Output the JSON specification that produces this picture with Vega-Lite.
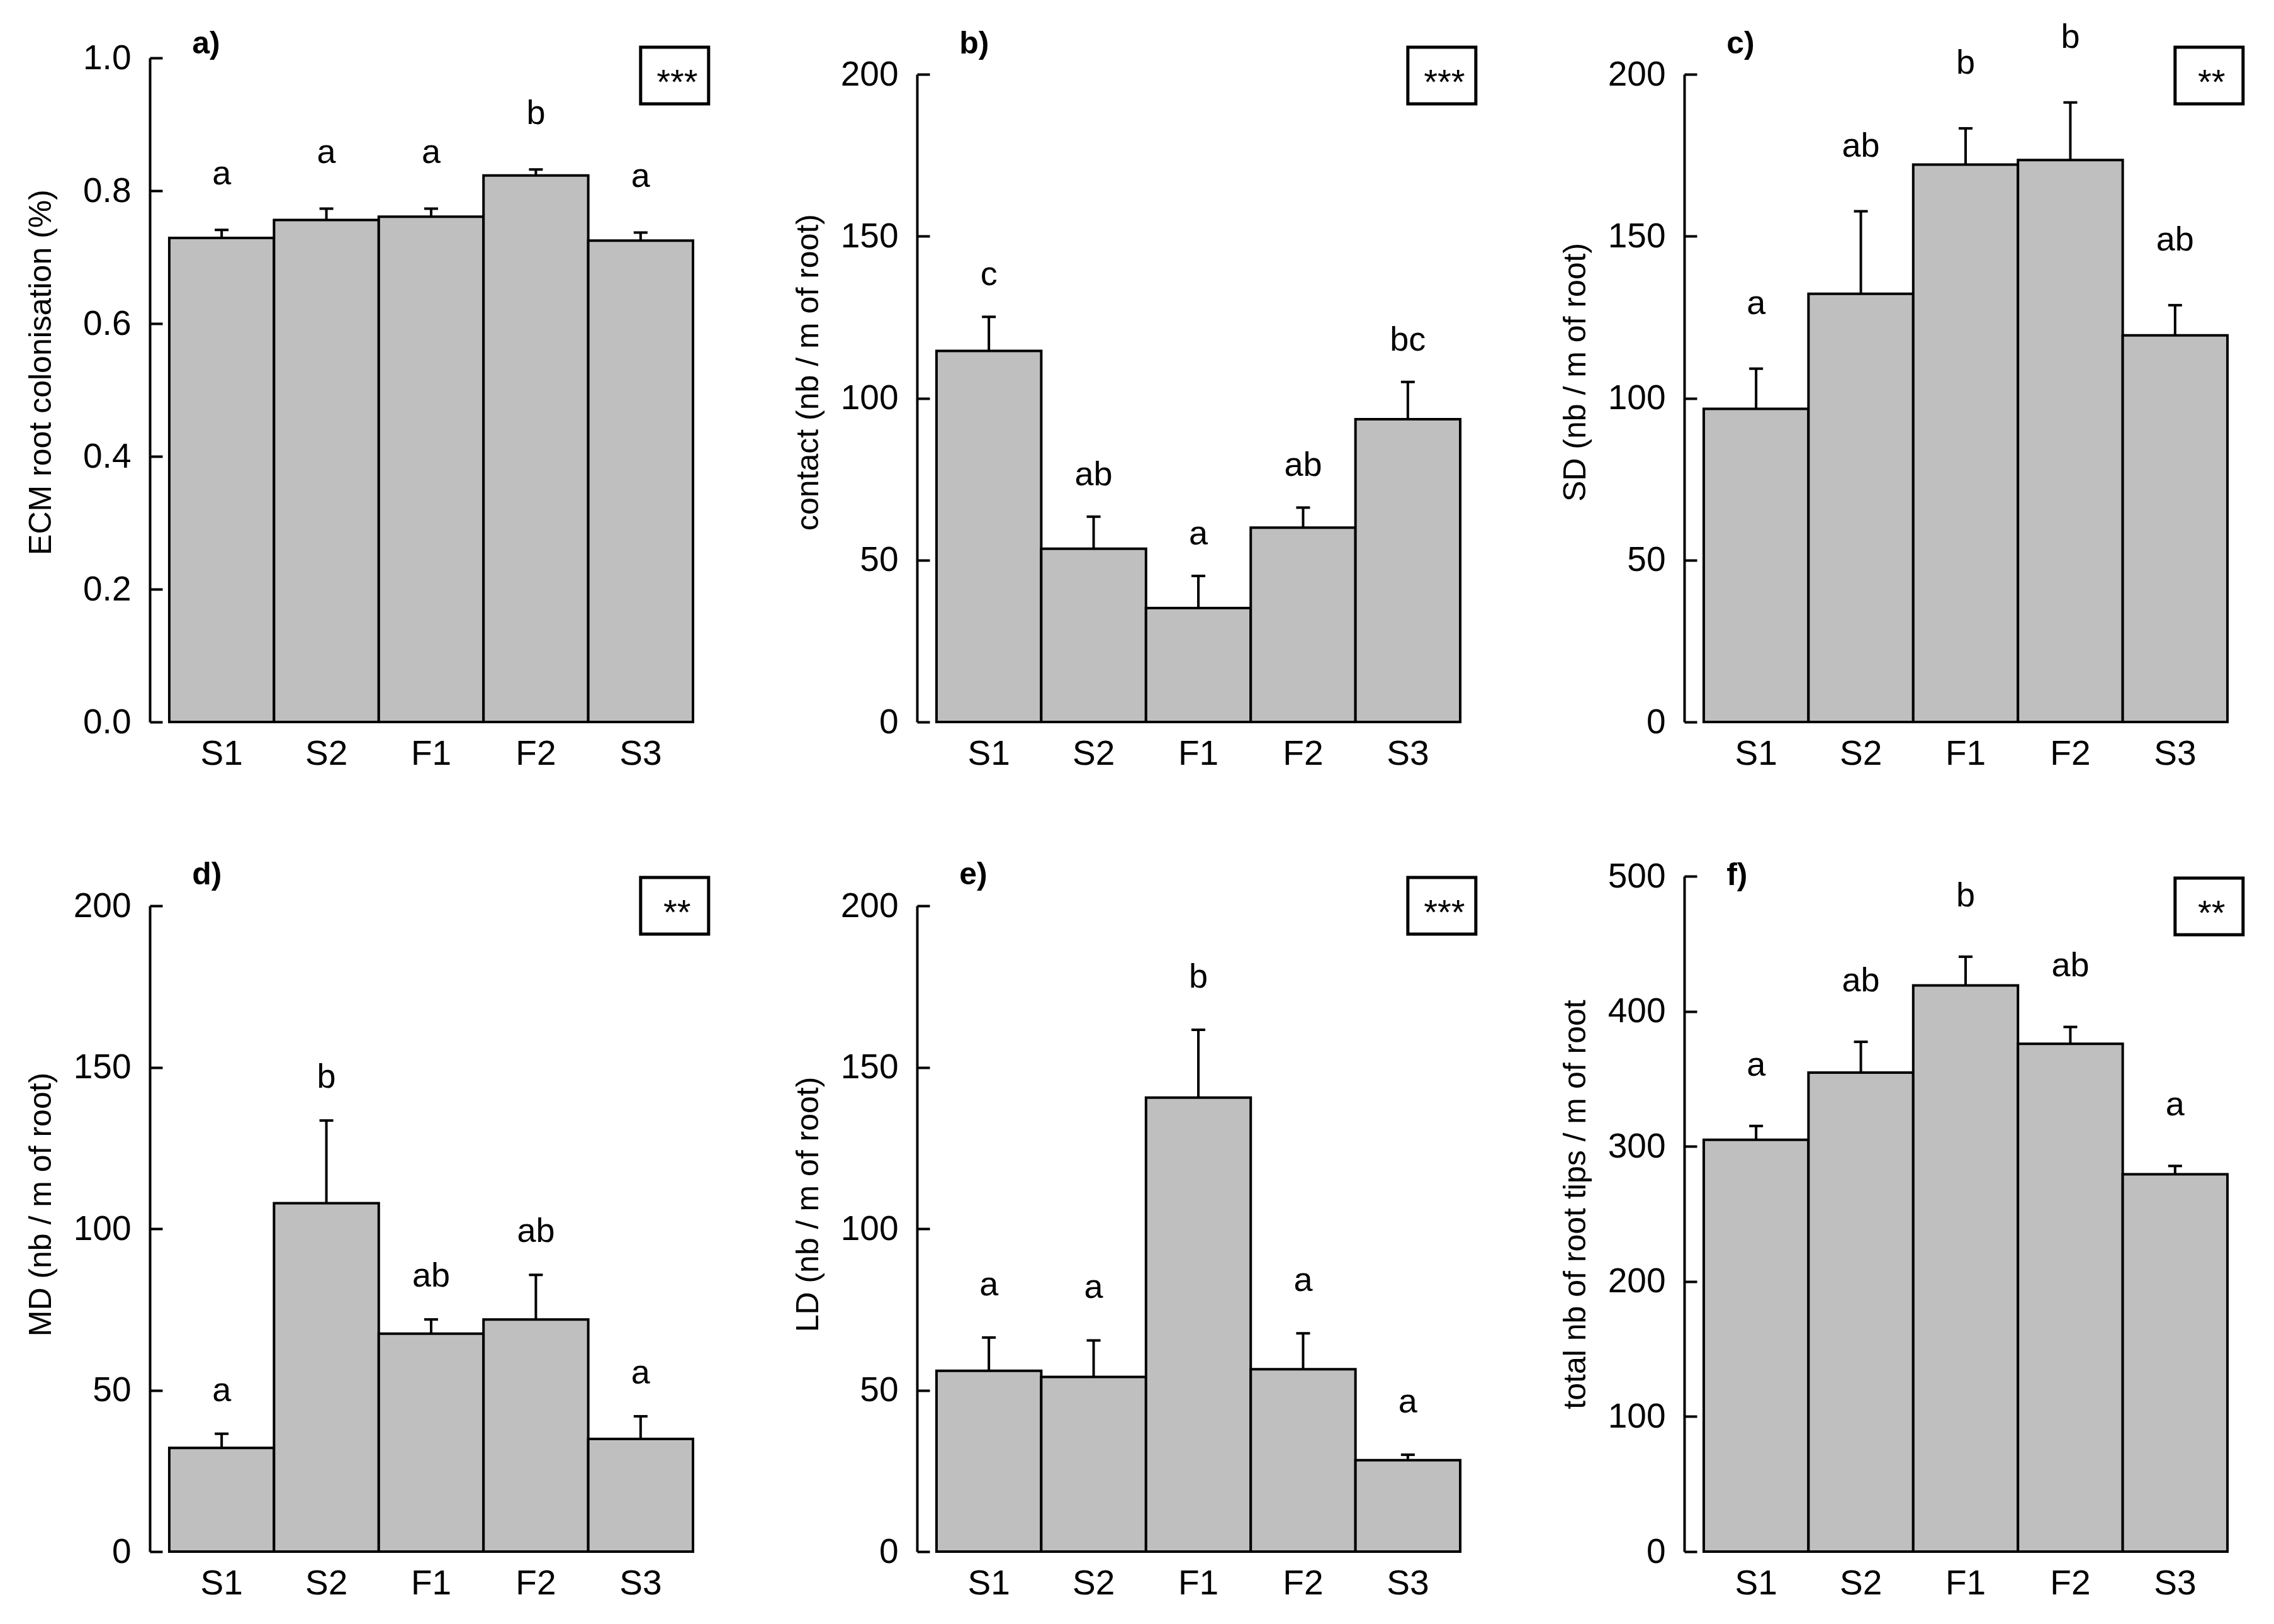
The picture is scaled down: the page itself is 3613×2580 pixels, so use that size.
{
  "$schema": "https://vega.github.io/schema/vega-lite/v6.json",
  "background": "white",
  "padding": {"left": 40, "top": 32, "right": 10, "bottom": 10},
  "columns": 3,
  "spacing": {"row": 245, "column": 325},
  "bounds": "flush",
  "datasets": {
    "bars": [
      {"panel": "a", "cat": "S1", "mean": 0.729, "upper": 0.741, "letter": "a"},
      {"panel": "a", "cat": "S2", "mean": 0.756, "upper": 0.773, "letter": "a"},
      {"panel": "a", "cat": "F1", "mean": 0.761, "upper": 0.773, "letter": "a"},
      {"panel": "a", "cat": "F2", "mean": 0.823, "upper": 0.832, "letter": "b"},
      {"panel": "a", "cat": "S3", "mean": 0.725, "upper": 0.737, "letter": "a"},
      {"panel": "b", "cat": "S1", "mean": 114.6, "upper": 125.1, "letter": "c"},
      {"panel": "b", "cat": "S2", "mean": 53.5, "upper": 63.4, "letter": "ab"},
      {"panel": "b", "cat": "F1", "mean": 35.2, "upper": 45.1, "letter": "a"},
      {"panel": "b", "cat": "F2", "mean": 60.0, "upper": 66.2, "letter": "ab"},
      {"panel": "b", "cat": "S3", "mean": 93.5, "upper": 105.0, "letter": "bc"},
      {"panel": "c", "cat": "S1", "mean": 96.7, "upper": 109.1, "letter": "a"},
      {"panel": "c", "cat": "S2", "mean": 132.2, "upper": 157.7, "letter": "ab"},
      {"panel": "c", "cat": "F1", "mean": 172.1, "upper": 183.3, "letter": "b"},
      {"panel": "c", "cat": "F2", "mean": 173.5, "upper": 191.3, "letter": "b"},
      {"panel": "c", "cat": "S3", "mean": 119.4, "upper": 128.7, "letter": "ab"},
      {"panel": "d", "cat": "S1", "mean": 32.1, "upper": 36.5, "letter": "a"},
      {"panel": "d", "cat": "S2", "mean": 107.9, "upper": 133.5, "letter": "b"},
      {"panel": "d", "cat": "F1", "mean": 67.5, "upper": 71.9, "letter": "ab"},
      {"panel": "d", "cat": "F2", "mean": 71.9, "upper": 85.7, "letter": "ab"},
      {"panel": "d", "cat": "S3", "mean": 34.9, "upper": 41.9, "letter": "a"},
      {"panel": "e", "cat": "S1", "mean": 56.0, "upper": 66.3, "letter": "a"},
      {"panel": "e", "cat": "S2", "mean": 54.1, "upper": 65.4, "letter": "a"},
      {"panel": "e", "cat": "F1", "mean": 140.6, "upper": 161.6, "letter": "b"},
      {"panel": "e", "cat": "F2", "mean": 56.5, "upper": 67.6, "letter": "a"},
      {"panel": "e", "cat": "S3", "mean": 28.3, "upper": 30.0, "letter": "a"},
      {"panel": "f", "cat": "S1", "mean": 304.9, "upper": 315.1, "letter": "a"},
      {"panel": "f", "cat": "S2", "mean": 354.6, "upper": 377.4, "letter": "ab"},
      {"panel": "f", "cat": "F1", "mean": 419.1, "upper": 440.4, "letter": "b"},
      {"panel": "f", "cat": "F2", "mean": 375.9, "upper": 388.4, "letter": "ab"},
      {"panel": "f", "cat": "S3", "mean": 279.4, "upper": 285.5, "letter": "a"}
    ],
    "panels": [
      {"panel": "a", "label": "a)", "sig": "***"},
      {"panel": "b", "label": "b)", "sig": "***"},
      {"panel": "c", "label": "c)", "sig": "**"},
      {"panel": "d", "label": "d)", "sig": "**"},
      {"panel": "e", "label": "e)", "sig": "***"},
      {"panel": "f", "label": "f)", "sig": "**"}
    ]
  },
  "concat": [
    {
      "width": 894, "height": 1055,
      "data": {"name": "bars"},
      "transform": [{"filter": "datum.panel === 'a'"}],
      "encoding": {"x": {"field": "cat", "type": "nominal", "sort": ["S1","S2","F1","F2","S3"], "scale": {"paddingInner": 0, "paddingOuter": 0.186}, "title": null}},
      "layer": [
        {"mark": {"type": "bar", "fill": "#bfbfbf", "stroke": "black", "strokeWidth": 4}, "encoding": {"y": {"field": "mean", "type": "quantitative", "scale": {"domain": [0, 1], "nice": false}, "axis": {"values": [0, 0.2, 0.4, 0.6, 0.8, 1.0], "format": ".1f", "titleX": -173, "titleY": 499}, "title": "ECM root colonisation (%)"}}},
        {"mark": {"type": "rule", "color": "black", "strokeWidth": 4}, "encoding": {"y": {"field": "mean", "type": "quantitative"}, "y2": {"field": "upper"}}},
        {"mark": {"type": "tick", "color": "black", "thickness": 4, "size": 22, "opacity": 1}, "encoding": {"y": {"field": "upper", "type": "quantitative"}}},
        {"mark": {"type": "text", "fontSize": 54, "baseline": "alphabetic", "dy": -72, "color": "black"}, "encoding": {"y": {"field": "upper", "type": "quantitative"}, "text": {"field": "letter"}}},
        {"data": {"name": "panels"}, "transform": [{"filter": "datum.panel === 'a'"}], "mark": {"type": "text", "fontSize": 50, "fontWeight": "bold", "align": "left", "baseline": "alphabetic", "dx": -47, "dy": -7, "color": "black"}, "encoding": {"x": {"datum": "S1"}, "y": {"datum": 1.0}, "text": {"field": "label"}}},
        {"data": {"name": "panels"}, "transform": [{"filter": "datum.panel === 'a'"}], "mark": {"type": "point", "shape": "M-1,-0.833L1,-0.833L1,0.833L-1,0.833Z", "size": 11664, "filled": false, "stroke": "black", "strokeWidth": 5, "opacity": 1, "xOffset": 54, "yOffset": 28}, "encoding": {"x": {"datum": "S3"}, "y": {"datum": 1.0}}},
        {"data": {"name": "panels"}, "transform": [{"filter": "datum.panel === 'a'"}], "mark": {"type": "text", "fontSize": 56, "baseline": "alphabetic", "dx": 58, "dy": 57, "color": "black"}, "encoding": {"x": {"datum": "S3"}, "y": {"datum": 1.0}, "text": {"field": "sig"}}}
      ]
    },
    {
      "width": 894, "height": 1055,
      "data": {"name": "bars"},
      "transform": [{"filter": "datum.panel === 'b'"}],
      "encoding": {"x": {"field": "cat", "type": "nominal", "sort": ["S1","S2","F1","F2","S3"], "scale": {"paddingInner": 0, "paddingOuter": 0.186}, "title": null}},
      "layer": [
        {"mark": {"type": "bar", "fill": "#bfbfbf", "stroke": "black", "strokeWidth": 4}, "encoding": {"y": {"field": "mean", "type": "quantitative", "scale": {"domain": [0, 200], "nice": false, "range": [1055, 26]}, "axis": {"values": [0, 50, 100, 150, 200], "titleX": -173, "titleY": 499}, "title": "contact (nb / m of root)"}}},
        {"mark": {"type": "rule", "color": "black", "strokeWidth": 4}, "encoding": {"y": {"field": "mean", "type": "quantitative"}, "y2": {"field": "upper"}}},
        {"mark": {"type": "tick", "color": "black", "thickness": 4, "size": 22, "opacity": 1}, "encoding": {"y": {"field": "upper", "type": "quantitative"}}},
        {"mark": {"type": "text", "fontSize": 54, "baseline": "alphabetic", "dy": -50, "color": "black"}, "encoding": {"y": {"field": "upper", "type": "quantitative"}, "text": {"field": "letter"}}},
        {"data": {"name": "panels"}, "transform": [{"filter": "datum.panel === 'b'"}], "mark": {"type": "text", "fontSize": 50, "fontWeight": "bold", "align": "left", "baseline": "alphabetic", "dx": -47, "dy": -33, "color": "black"}, "encoding": {"x": {"datum": "S1"}, "y": {"datum": 200}, "text": {"field": "label"}}},
        {"data": {"name": "panels"}, "transform": [{"filter": "datum.panel === 'b'"}], "mark": {"type": "point", "shape": "M-1,-0.833L1,-0.833L1,0.833L-1,0.833Z", "size": 11664, "filled": false, "stroke": "black", "strokeWidth": 5, "opacity": 1, "xOffset": 54, "yOffset": 2}, "encoding": {"x": {"datum": "S3"}, "y": {"datum": 200}}},
        {"data": {"name": "panels"}, "transform": [{"filter": "datum.panel === 'b'"}], "mark": {"type": "text", "fontSize": 56, "baseline": "alphabetic", "dx": 58, "dy": 31, "color": "black"}, "encoding": {"x": {"datum": "S3"}, "y": {"datum": 200}, "text": {"field": "sig"}}}
      ]
    },
    {
      "width": 894, "height": 1055,
      "data": {"name": "bars"},
      "transform": [{"filter": "datum.panel === 'c'"}],
      "encoding": {"x": {"field": "cat", "type": "nominal", "sort": ["S1","S2","F1","F2","S3"], "scale": {"paddingInner": 0, "paddingOuter": 0.186}, "title": null}},
      "layer": [
        {"mark": {"type": "bar", "fill": "#bfbfbf", "stroke": "black", "strokeWidth": 4}, "encoding": {"y": {"field": "mean", "type": "quantitative", "scale": {"domain": [0, 200], "nice": false, "range": [1055, 26]}, "axis": {"values": [0, 50, 100, 150, 200], "titleX": -173, "titleY": 499}, "title": "SD (nb / m of root)"}}},
        {"mark": {"type": "rule", "color": "black", "strokeWidth": 4}, "encoding": {"y": {"field": "mean", "type": "quantitative"}, "y2": {"field": "upper"}}},
        {"mark": {"type": "tick", "color": "black", "thickness": 4, "size": 22, "opacity": 1}, "encoding": {"y": {"field": "upper", "type": "quantitative"}}},
        {"mark": {"type": "text", "fontSize": 54, "baseline": "alphabetic", "dy": -87, "color": "black"}, "encoding": {"y": {"field": "upper", "type": "quantitative"}, "text": {"field": "letter"}}},
        {"data": {"name": "panels"}, "transform": [{"filter": "datum.panel === 'c'"}], "mark": {"type": "text", "fontSize": 50, "fontWeight": "bold", "align": "left", "baseline": "alphabetic", "dx": -47, "dy": -33, "color": "black"}, "encoding": {"x": {"datum": "S1"}, "y": {"datum": 200}, "text": {"field": "label"}}},
        {"data": {"name": "panels"}, "transform": [{"filter": "datum.panel === 'c'"}], "mark": {"type": "point", "shape": "M-1,-0.833L1,-0.833L1,0.833L-1,0.833Z", "size": 11664, "filled": false, "stroke": "black", "strokeWidth": 5, "opacity": 1, "xOffset": 54, "yOffset": 2}, "encoding": {"x": {"datum": "S3"}, "y": {"datum": 200}}},
        {"data": {"name": "panels"}, "transform": [{"filter": "datum.panel === 'c'"}], "mark": {"type": "text", "fontSize": 56, "baseline": "alphabetic", "dx": 58, "dy": 31, "color": "black"}, "encoding": {"x": {"datum": "S3"}, "y": {"datum": 200}, "text": {"field": "sig"}}}
      ]
    },
    {
      "width": 894, "height": 1073,
      "data": {"name": "bars"},
      "transform": [{"filter": "datum.panel === 'd'"}],
      "encoding": {"x": {"field": "cat", "type": "nominal", "sort": ["S1","S2","F1","F2","S3"], "scale": {"paddingInner": 0, "paddingOuter": 0.186}, "title": null}},
      "layer": [
        {"mark": {"type": "bar", "fill": "#bfbfbf", "stroke": "black", "strokeWidth": 4}, "encoding": {"y": {"field": "mean", "type": "quantitative", "scale": {"domain": [0, 200], "nice": false, "range": [1073, 47]}, "axis": {"values": [0, 50, 100, 150, 200], "titleX": -173, "titleY": 521}, "title": "MD (nb / m of root)"}}},
        {"mark": {"type": "rule", "color": "black", "strokeWidth": 4}, "encoding": {"y": {"field": "mean", "type": "quantitative"}, "y2": {"field": "upper"}}},
        {"mark": {"type": "tick", "color": "black", "thickness": 4, "size": 22, "opacity": 1}, "encoding": {"y": {"field": "upper", "type": "quantitative"}}},
        {"mark": {"type": "text", "fontSize": 54, "baseline": "alphabetic", "dy": -52, "color": "black"}, "encoding": {"y": {"field": "upper", "type": "quantitative"}, "text": {"field": "letter"}}},
        {"data": {"name": "panels"}, "transform": [{"filter": "datum.panel === 'd'"}], "mark": {"type": "text", "fontSize": 50, "fontWeight": "bold", "align": "left", "baseline": "alphabetic", "dx": -47, "dy": -34, "color": "black"}, "encoding": {"x": {"datum": "S1"}, "y": {"datum": 200}, "text": {"field": "label"}}},
        {"data": {"name": "panels"}, "transform": [{"filter": "datum.panel === 'd'"}], "mark": {"type": "point", "shape": "M-1,-0.833L1,-0.833L1,0.833L-1,0.833Z", "size": 11664, "filled": false, "stroke": "black", "strokeWidth": 5, "opacity": 1, "xOffset": 54, "yOffset": 0}, "encoding": {"x": {"datum": "S3"}, "y": {"datum": 200}}},
        {"data": {"name": "panels"}, "transform": [{"filter": "datum.panel === 'd'"}], "mark": {"type": "text", "fontSize": 56, "baseline": "alphabetic", "dx": 58, "dy": 29, "color": "black"}, "encoding": {"x": {"datum": "S3"}, "y": {"datum": 200}, "text": {"field": "sig"}}}
      ]
    },
    {
      "width": 894, "height": 1073,
      "data": {"name": "bars"},
      "transform": [{"filter": "datum.panel === 'e'"}],
      "encoding": {"x": {"field": "cat", "type": "nominal", "sort": ["S1","S2","F1","F2","S3"], "scale": {"paddingInner": 0, "paddingOuter": 0.186}, "title": null}},
      "layer": [
        {"mark": {"type": "bar", "fill": "#bfbfbf", "stroke": "black", "strokeWidth": 4}, "encoding": {"y": {"field": "mean", "type": "quantitative", "scale": {"domain": [0, 200], "nice": false, "range": [1073, 47]}, "axis": {"values": [0, 50, 100, 150, 200], "titleX": -173, "titleY": 521}, "title": "LD (nb / m of root)"}}},
        {"mark": {"type": "rule", "color": "black", "strokeWidth": 4}, "encoding": {"y": {"field": "mean", "type": "quantitative"}, "y2": {"field": "upper"}}},
        {"mark": {"type": "tick", "color": "black", "thickness": 4, "size": 22, "opacity": 1}, "encoding": {"y": {"field": "upper", "type": "quantitative"}}},
        {"mark": {"type": "text", "fontSize": 54, "baseline": "alphabetic", "dy": -67, "color": "black"}, "encoding": {"y": {"field": "upper", "type": "quantitative"}, "text": {"field": "letter"}}},
        {"data": {"name": "panels"}, "transform": [{"filter": "datum.panel === 'e'"}], "mark": {"type": "text", "fontSize": 50, "fontWeight": "bold", "align": "left", "baseline": "alphabetic", "dx": -47, "dy": -34, "color": "black"}, "encoding": {"x": {"datum": "S1"}, "y": {"datum": 200}, "text": {"field": "label"}}},
        {"data": {"name": "panels"}, "transform": [{"filter": "datum.panel === 'e'"}], "mark": {"type": "point", "shape": "M-1,-0.833L1,-0.833L1,0.833L-1,0.833Z", "size": 11664, "filled": false, "stroke": "black", "strokeWidth": 5, "opacity": 1, "xOffset": 54, "yOffset": 0}, "encoding": {"x": {"datum": "S3"}, "y": {"datum": 200}}},
        {"data": {"name": "panels"}, "transform": [{"filter": "datum.panel === 'e'"}], "mark": {"type": "text", "fontSize": 56, "baseline": "alphabetic", "dx": 58, "dy": 29, "color": "black"}, "encoding": {"x": {"datum": "S3"}, "y": {"datum": 200}, "text": {"field": "sig"}}}
      ]
    },
    {
      "width": 894, "height": 1073,
      "data": {"name": "bars"},
      "transform": [{"filter": "datum.panel === 'f'"}],
      "encoding": {"x": {"field": "cat", "type": "nominal", "sort": ["S1","S2","F1","F2","S3"], "scale": {"paddingInner": 0, "paddingOuter": 0.186}, "title": null}},
      "layer": [
        {"mark": {"type": "bar", "fill": "#bfbfbf", "stroke": "black", "strokeWidth": 4}, "encoding": {"y": {"field": "mean", "type": "quantitative", "scale": {"domain": [0, 500], "nice": false}, "axis": {"values": [0, 100, 200, 300, 400, 500], "titleX": -173, "titleY": 521}, "title": "total nb of root tips / m of root"}}},
        {"mark": {"type": "rule", "color": "black", "strokeWidth": 4}, "encoding": {"y": {"field": "mean", "type": "quantitative"}, "y2": {"field": "upper"}}},
        {"mark": {"type": "tick", "color": "black", "thickness": 4, "size": 22, "opacity": 1}, "encoding": {"y": {"field": "upper", "type": "quantitative"}}},
        {"mark": {"type": "text", "fontSize": 54, "baseline": "alphabetic", "dy": -80, "color": "black"}, "encoding": {"y": {"field": "upper", "type": "quantitative"}, "text": {"field": "letter"}}},
        {"data": {"name": "panels"}, "transform": [{"filter": "datum.panel === 'f'"}], "mark": {"type": "text", "fontSize": 50, "fontWeight": "bold", "align": "left", "baseline": "alphabetic", "dx": -47, "dy": 14, "color": "black"}, "encoding": {"x": {"datum": "S1"}, "y": {"datum": 500}, "text": {"field": "label"}}},
        {"data": {"name": "panels"}, "transform": [{"filter": "datum.panel === 'f'"}], "mark": {"type": "point", "shape": "M-1,-0.833L1,-0.833L1,0.833L-1,0.833Z", "size": 11664, "filled": false, "stroke": "black", "strokeWidth": 5, "opacity": 1, "xOffset": 54, "yOffset": 48}, "encoding": {"x": {"datum": "S3"}, "y": {"datum": 500}}},
        {"data": {"name": "panels"}, "transform": [{"filter": "datum.panel === 'f'"}], "mark": {"type": "text", "fontSize": 56, "baseline": "alphabetic", "dx": 58, "dy": 77, "color": "black"}, "encoding": {"x": {"datum": "S3"}, "y": {"datum": 500}, "text": {"field": "sig"}}}
      ]
    }
  ],
  "config": {
    "font": "Liberation Sans",
    "view": {"stroke": null},
    "axisY": {"grid": false, "domainColor": "black", "domainWidth": 4, "tickColor": "black", "tickWidth": 4, "tickSize": -20, "labelPadding": 50, "labelFontSize": 55, "labelColor": "black", "titleFontSize": 50, "titleFontWeight": "normal", "titleColor": "black", "titleBaseline": "middle"},
    "axisX": {"grid": false, "domain": false, "ticks": false, "labelFontSize": 55, "labelColor": "black", "labelPadding": 24, "labelAngle": 0}
  }
}
